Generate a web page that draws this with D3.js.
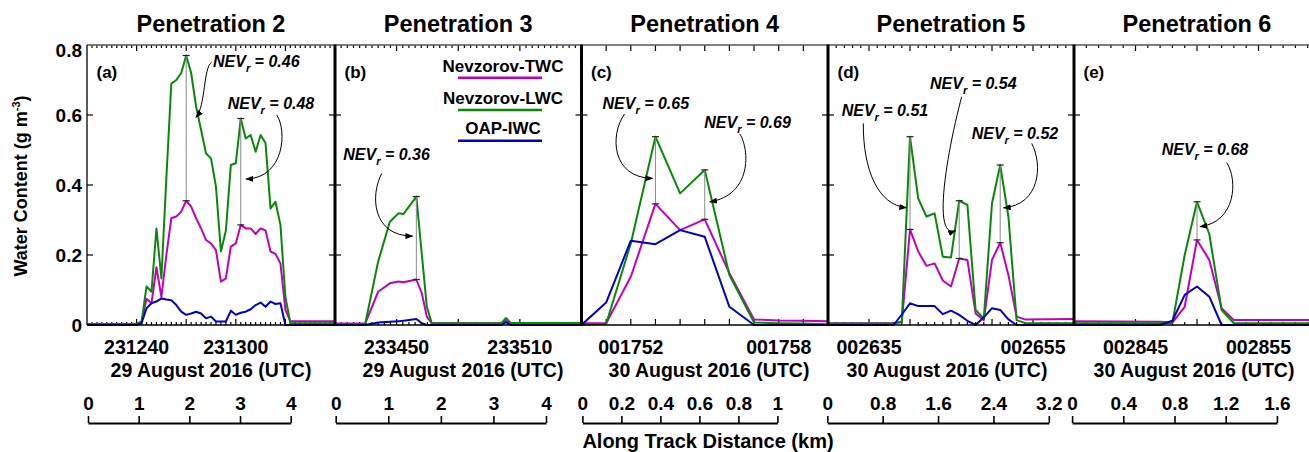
<!DOCTYPE html>
<html><head><meta charset="utf-8">
<script src="https://cdn.jsdelivr.net/npm/d3@7"></script>
<style>
body{margin:0;background:#fff}
svg{display:block;font-family:"Liberation Sans",Arial,sans-serif;font-weight:bold}
</style>
</head><body>
<svg id="c" width="1309" height="452"></svg>
<script>
// ---------------- DATA ----------------
const titles = ["Penetration 2","Penetration 3","Penetration 4","Penetration 5","Penetration 6"];
const panelTags = ["(a)","(b)","(c)","(d)","(e)"];
const dateLabels = ["29 August 2016 (UTC)","29 August 2016 (UTC)","30 August 2016 (UTC)","30 August 2016 (UTC)","30 August 2016 (UTC)"];
const startTimes = ["231230","233440","001750","002630","002840"];
const endTimes   = ["231320","233520","001800","002700","002900"];
const timeTickLabels = [["231240","231300"],["233450","233510"],["001752","001758"],["002635","002655"],["002845","002855"]];
const majorTickStep = [10,10,1,5,5];
const distTicks = [[0,1,2,3,4],[0,1,2,3,4],[0,0.2,0.4,0.6,0.8,1],[0,0.8,1.6,2.4,3.2],[0,0.4,0.8,1.2,1.6]];
const yTicks = [0,0.2,0.4,0.6,0.8];
const seriesNames = ["Nevzorov-TWC","Nevzorov-LWC","OAP-IWC"];

// seconds after panel start time
const p1Sec = [0,10,11,12,13,14,15,16,17,18,19,20,21,22,23,24,25,26,27,28,29,30,31,32,33,34,35,36,37,38,39,40,41,50];
const p1TWC = [0.003,0.003,0.01,0.075,0.062,0.165,0.08,0.2,0.305,0.31,0.324,0.355,0.338,0.305,0.276,0.243,0.233,0.214,0.124,0.133,0.224,0.233,0.286,0.276,0.276,0.26,0.276,0.27,0.21,0.203,0.176,0.043,0.011,0.011];
const p1LWC = [0.003,0.003,0.008,0.11,0.095,0.276,0.133,0.42,0.69,0.70,0.72,0.77,0.72,0.624,0.557,0.49,0.476,0.395,0.21,0.27,0.457,0.462,0.59,0.533,0.543,0.495,0.543,0.519,0.333,0.352,0.286,0.08,0.005,0.005];
const p1IWC = [0,0,0.005,0.048,0.062,0.067,0.076,0.073,0.071,0.057,0.038,0.029,0.033,0.038,0.033,0.019,0.024,0.01,0.01,0.01,0.041,0.029,0.035,0.038,0.045,0.057,0.064,0.052,0.067,0.06,0.062,0,0,0];

const p2Sec = [0,4.9,7,8.9,10.3,11.1,13.2,14.1,14.9,15.7,27,27.75,28.5,40];
const p2TWC = [0.004,0.004,0.095,0.119,0.124,0.122,0.13,0.09,0.024,0.005,0.005,0.012,0.005,0.005];
const p2LWC = [0.003,0.003,0.181,0.295,0.319,0.317,0.367,0.2,0.052,0.005,0.005,0.02,0.006,0.006];
const p2IWC = [0,0,0.007,0.009,0.011,0.012,0.017,0.005,0,0,0,0.008,0,0];

const p3Sec = [0,1,2,3,4,5,6,7,8,9,10];
const p3TWC = [0.005,0.005,0.138,0.346,0.271,0.302,0.148,0.016,0.013,0.012,0.011];
const p3LWC = [0.001,0.003,0.233,0.538,0.376,0.443,0.143,0.007,0.005,0.004,0.002];
const p3IWC = [0,0.064,0.241,0.231,0.271,0.252,0.052,0,0,0,0];

const p4Sec = [0,8,9,10,11,12,13,14,15,16,17,18,19,20,21,22,23,24,30];
const p4TWC = [0.005,0.005,0.008,0.273,0.21,0.169,0.176,0.127,0.11,0.19,0.186,0.033,0.014,0.186,0.235,0.143,0.024,0.016,0.017];
const p4LWC = [0.004,0.004,0.01,0.538,0.362,0.31,0.319,0.195,0.193,0.355,0.343,0.043,0.019,0.348,0.457,0.31,0.014,0.006,0.005];
const p4IWC = [0,0,0.03,0.062,0.054,0.054,0.054,0.031,0.041,0.029,0.012,0,0.022,0.048,0.043,0.016,0,0,0];

const p5Sec = [0,7,8,9,10,11,12,13,20];
const p5TWC = [0.011,0.009,0.007,0.052,0.243,0.186,0.048,0.014,0.014];
const p5LWC = [0.005,0.005,0.006,0.2,0.352,0.26,0.043,0.005,0.005];
const p5IWC = [0,0,0.012,0.086,0.11,0.081,0,0,0];

// NEV_r error bars (times in seconds after panel start) and their values
const barSec = [[20,31],[13.2],[3,5],[10,16,21],[10]];
const nevValues = [["0.46","0.48"],["0.36"],["0.65","0.69"],["0.51","0.54","0.52"],["0.68"]];

// ---------------- LAYOUT ----------------
const W = 1309, H = 452;
const edges = [87,335,581.5,828,1074,1320];
const plotTop = 45, plotBot = 325;
const distRange = [[88,290.7],[335.7,546],[582.4,777.4],[827.3,1048.8],[1072.1,1276.9]];
const dateCenter = [211,463,709,947,1194];
const colors = {twc:"#c000c0", lwc:"#0a870a", iwc:"#0000c8"};
// annotation geometry in data units [sec, value]: text, arrow start, ctrl1, ctrl2, end
const annotGeom = [
 [ {t:[25.4,0.752], s:[25.14,0.751], c1:[23.39,0.734], c2:[23.99,0.629], e:[21.98,0.593]},
   {t:[28.37,0.633], s:[38.25,0.6], c1:[40.32,0.557], c2:[39.92,0.42], e:[32.06,0.417]} ],
 [ {t:[1.35,0.486], s:[7.59,0.433], c1:[5.69,0.371], c2:[6.02,0.254], e:[12.6,0.254]} ],
 [ {t:[0.854,0.633], s:[1.748,0.603], c1:[1.138,0.543], c2:[1.22,0.42], e:[2.886,0.419]},
   {t:[4.98,0.578], s:[6.423,0.546], c1:[6.829,0.5], c2:[6.911,0.371], e:[5.203,0.352]} ],
 [ {t:[1.67,0.612], s:[4.305,0.576], c1:[4.268,0.443], c2:[6.098,0.343], e:[9.573,0.335]},
   {t:[12.44,0.69], s:[16.305,0.652], c1:[14.878,0.529], c2:[12.439,0.243], e:[15.549,0.269]},
   {t:[17.52,0.548], s:[24.841,0.519], c1:[26.22,0.457], c2:[25.854,0.343], e:[21.402,0.335]} ],
 [ {t:[7.13,0.502], s:[12.415,0.464], c1:[13.333,0.414], c2:[13.171,0.294], e:[10.244,0.281]} ]
];

const toSec = s => (+s.slice(0,2))*3600 + (+s.slice(2,4))*60 + (+s.slice(4,6));

const panels = [
 {sec:p1Sec, twc:p1TWC, lwc:p1LWC, iwc:p1IWC},
 {sec:p2Sec, twc:p2TWC, lwc:p2LWC, iwc:p2IWC},
 {sec:p3Sec, twc:p3TWC, lwc:p3LWC, iwc:p3IWC},
 {sec:p4Sec, twc:p4TWC, lwc:p4LWC, iwc:p4IWC},
 {sec:p5Sec, twc:p5TWC, lwc:p5LWC, iwc:p5IWC}
];

const svg = d3.select("#c");
svg.append("rect").attr("width",W).attr("height",H).attr("fill","#fff");
const defs = svg.append("defs");
defs.append("marker").attr("id","ah").attr("viewBox","0 0 10 10").attr("refX",9).attr("refY",5)
  .attr("markerWidth",8).attr("markerHeight",6).attr("markerUnits","userSpaceOnUse")
  .attr("preserveAspectRatio","none").attr("orient","auto")
  .append("path").attr("d","M0,0L10,5L0,10z").attr("fill","#000");

const y = d3.scaleLinear().domain([0,0.8]).range([plotBot,plotTop]);

panels.forEach((P,i) => {
  const span = toSec(endTimes[i]) - toSec(startTimes[i]);
  const x = d3.scaleLinear().domain([0,span]).range([edges[i],edges[i+1]]);
  const g = svg.append("g");
  defs.append("clipPath").attr("id","clip"+i).append("rect")
    .attr("x",edges[i]).attr("y",plotTop-2).attr("width",edges[i+1]-edges[i]).attr("height",plotBot-plotTop+4);

  // title
  svg.append("text").attr("x",(edges[i]+Math.min(edges[i+1],1320))/2).attr("y",32)
    .attr("text-anchor","middle").attr("font-size",23.5).text(titles[i]);

  // time ticks top & bottom
  const tks = d3.range(1,span,1);
  tks.forEach(t => {
    const major = (t % majorTickStep[i]) === 0;
    const len = major ? 6 : 3;
    g.append("line").attr("x1",x(t)).attr("x2",x(t)).attr("y1",plotTop).attr("y2",plotTop+len).attr("stroke","#000").attr("stroke-width",1.2);
    g.append("line").attr("x1",x(t)).attr("x2",x(t)).attr("y1",plotBot).attr("y2",plotBot-len).attr("stroke","#000").attr("stroke-width",1.2);
  });
  // y ticks both sides
  yTicks.slice(1,4).forEach(v => {
    g.append("line").attr("x1",edges[i]).attr("x2",edges[i]+6).attr("y1",y(v)).attr("y2",y(v)).attr("stroke","#000").attr("stroke-width",1.2);
    g.append("line").attr("x1",edges[i+1]).attr("x2",edges[i+1]-6).attr("y1",y(v)).attr("y2",y(v)).attr("stroke","#000").attr("stroke-width",1.2);
  });

  // series lines
  const lg = g.append("g").attr("clip-path",`url(#clip${i})`);
  const line = d3.line().x(d=>x(d[0])).y(d=>y(d[1]));
  ["twc","lwc","iwc"].forEach(k => {
    lg.append("path").datum(P.sec.map((s,j)=>[s,P[k][j]]))
      .attr("d",line).attr("fill","none").attr("stroke",colors[k]).attr("stroke-width",2).attr("stroke-linejoin","round");
  });

  // error bars
  barSec[i].forEach(s => {
    const j = P.sec.indexOf(s);
    const lo = P.twc[j], hi = P.lwc[j];
    g.append("line").attr("x1",x(s)).attr("x2",x(s)).attr("y1",y(lo)).attr("y2",y(hi)).attr("stroke","#888").attr("stroke-width",1);
    [lo,hi].forEach(v => g.append("line").attr("x1",x(s)-3.5).attr("x2",x(s)+3.5).attr("y1",y(v)).attr("y2",y(v)).attr("stroke","#222").attr("stroke-width",1.2));
  });

  // annotations
  annotGeom[i].forEach((a,n) => {
    const p = d3.path();
    p.moveTo(x(a.s[0]),y(a.s[1]));
    p.bezierCurveTo(x(a.c1[0]),y(a.c1[1]),x(a.c2[0]),y(a.c2[1]),x(a.e[0]),y(a.e[1]));
    g.append("path").attr("d",p.toString()).attr("fill","none").attr("stroke","#000").attr("stroke-width",1).attr("marker-end","url(#ah)");
    const t = g.append("text").attr("x",x(a.t[0])).attr("y",y(a.t[1])+5.5).attr("font-size",16).attr("font-style","italic");
    t.append("tspan").text("NEV");
    t.append("tspan").attr("font-size",11).attr("dy",5).text("r");
    t.append("tspan").attr("dy",-5).text(" = " + nevValues[i][n]);
  });

  // panel tag
  g.append("text").attr("x",edges[i]+9.5).attr("y",78).attr("font-size",17).text(panelTags[i]);

  // time labels
  timeTickLabels[i].forEach(lbl => {
    svg.append("text").attr("x",x(toSec(lbl)-toSec(startTimes[i]))).attr("y",353.5)
      .attr("text-anchor","middle").attr("font-size",19.5).text(lbl);
  });
  svg.append("text").attr("x",dateCenter[i]).attr("y",377).attr("text-anchor","middle")
    .attr("font-size",19.5).text(dateLabels[i]);

  // distance axis
  const dx = d3.scaleLinear().domain([0,d3.max(distTicks[i])]).range(distRange[i]);
  const ax = svg.append("g").attr("transform","translate(0,423)")
    .call(d3.axisTop(dx).tickValues(distTicks[i]).tickFormat(d=>String(d)).tickSize(7).tickSizeOuter(0).tickPadding(6));
  ax.select(".domain").attr("stroke","#000").attr("stroke-width",2);
  ax.selectAll(".tick line").attr("stroke","#000").attr("stroke-width",1.6);
  ax.selectAll(".tick text").attr("font-size",19).attr("font-family","'Liberation Sans',Arial,sans-serif").attr("font-weight","bold").attr("fill","#000");
});

// frame
svg.append("line").attr("x1",edges[0]).attr("x2",edges[5]).attr("y1",plotTop).attr("y2",plotTop).attr("stroke","#555").attr("stroke-width",1.3);
svg.append("line").attr("x1",edges[0]).attr("x2",edges[5]).attr("y1",plotBot).attr("y2",plotBot).attr("stroke","#000").attr("stroke-width",1.6);
svg.append("line").attr("x1",edges[0]).attr("x2",edges[0]).attr("y1",plotTop).attr("y2",plotBot).attr("stroke","#000").attr("stroke-width",1.3);
edges.slice(1,5).forEach(e => {
  svg.append("line").attr("x1",e).attr("x2",e).attr("y1",plotTop-0.5).attr("y2",plotBot+0.5).attr("stroke","#000").attr("stroke-width",3);
});

// y axis labels
yTicks.forEach(v => {
  svg.append("text").attr("x",82).attr("y",Math.max(y(v),50)+7).attr("text-anchor","end").attr("font-size",19).text(String(v));
});
const yl = svg.append("text").attr("transform","translate(27,186) rotate(-90)").attr("text-anchor","middle").attr("font-size",18);
yl.append("tspan").text("Water Content (g m");
yl.append("tspan").attr("font-size",11).attr("dy",-7).text("-3");
yl.append("tspan").attr("dy",7).text(")");

svg.append("text").attr("x",708).attr("y",448).attr("text-anchor","middle").attr("font-size",20).text("Along Track Distance (km)");

// legend (in panel b)
const legKeys = ["twc","lwc","iwc"];
const legTextY = [71.7,104,134], legLineY = [77.7,110,140.7];
seriesNames.forEach((nm,j) => {
  svg.append("text").attr("x",503).attr("y",legTextY[j]).attr("text-anchor","middle").attr("font-size",17).text(nm);
  svg.append("line").attr("x1",458).attr("x2",542).attr("y1",legLineY[j]).attr("y2",legLineY[j])
    .attr("stroke",colors[legKeys[j]]).attr("stroke-width",2.5);
});
</script>
</body></html>
